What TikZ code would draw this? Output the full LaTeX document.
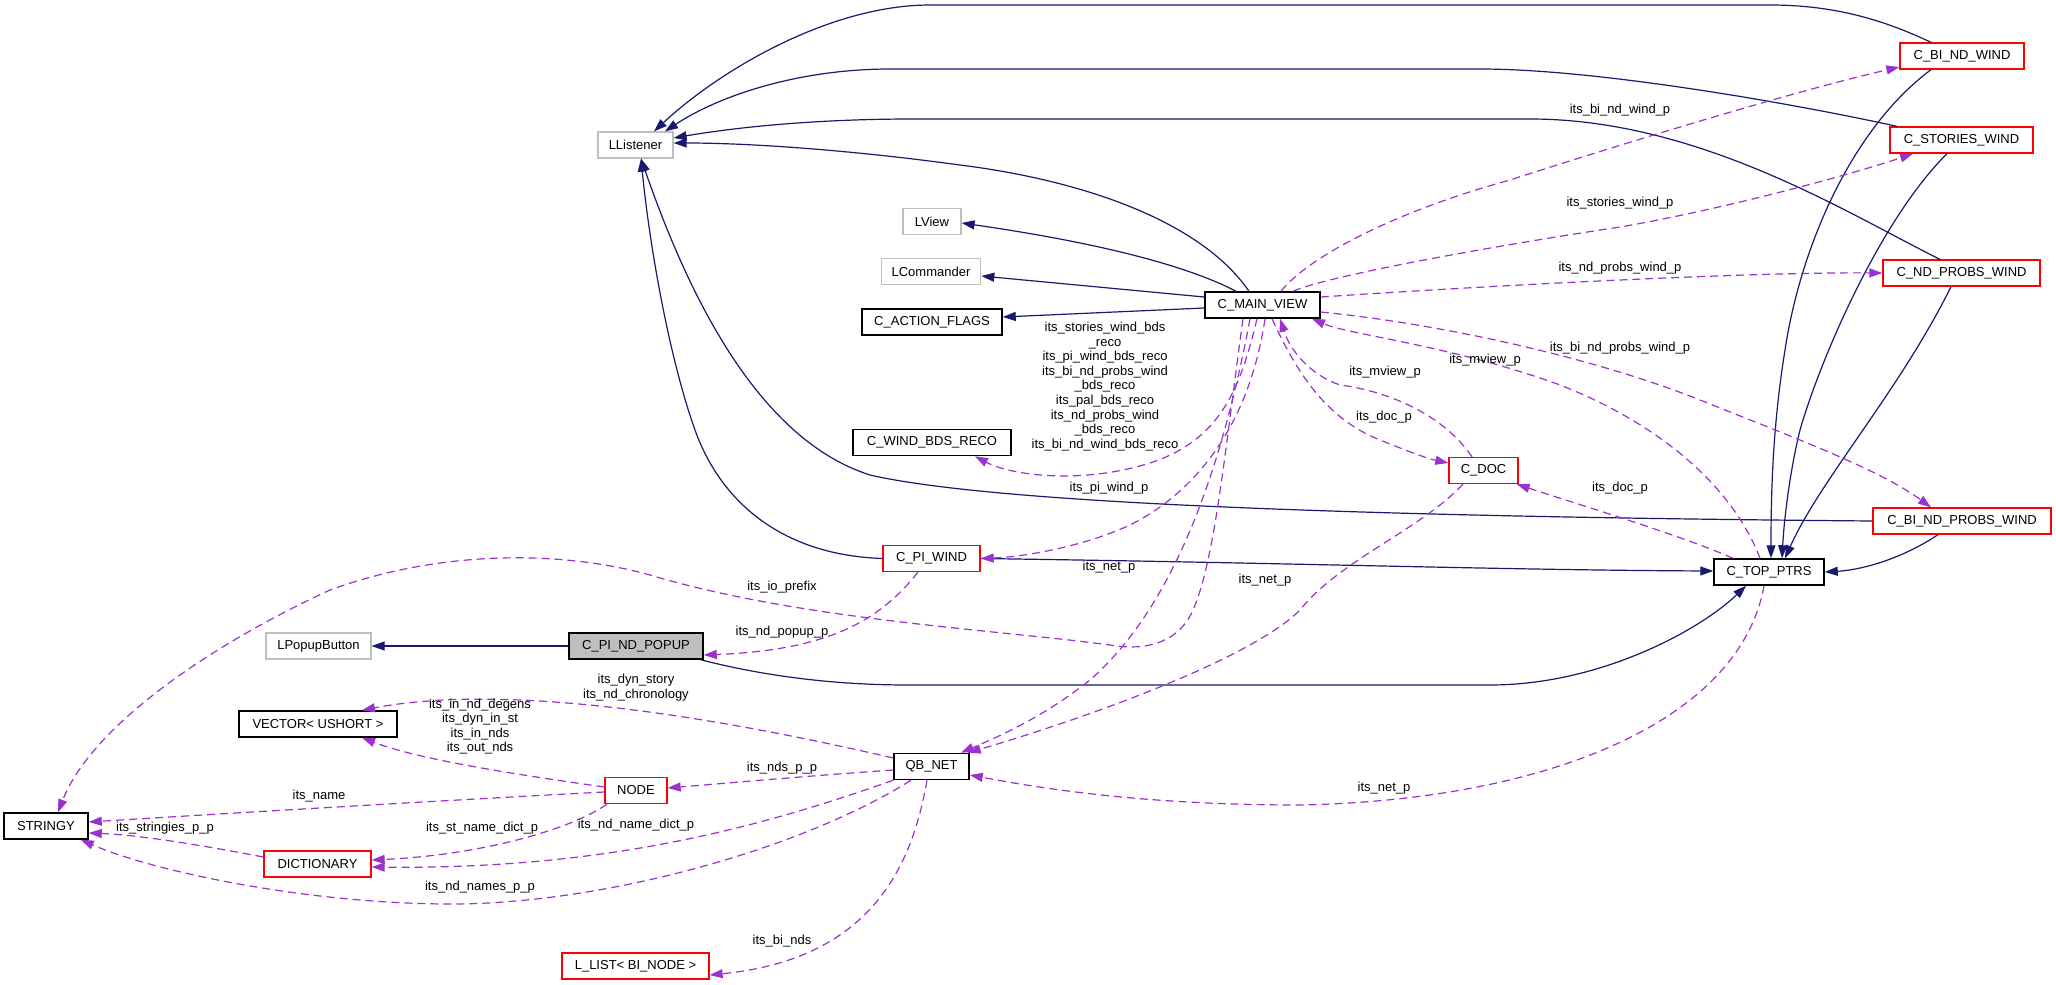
\documentclass[tikz,border=0pt]{standalone}
\usepackage{fontspec}
\setmainfont{Liberation Sans}
\usetikzlibrary{arrows.meta}
\definecolor{midblue}{HTML}{191970}
\definecolor{orchid}{HTML}{9A32CD}
\definecolor{lgray}{HTML}{BFBFBF}
\begin{document}
\begin{tikzpicture}[x=1pt,y=-1pt,
  every node/.style={font=\fontsize{13pt}{14.6pt}\selectfont},
  nbox/.style={draw, minimum height=26pt, inner sep=0pt, anchor=center},
  bbox/.style={nbox, draw=black, line width=1.5pt},
  rbox/.style={nbox, draw=red, line width=1.3pt},
  gbox/.style={nbox, draw=lgray, line width=1.2pt},
  inhedge/.style={draw=midblue, line width=1.2pt, -{Triangle[length=13pt,width=9pt]}},
  useedge/.style={draw=orchid, line width=1.2pt, dash pattern=on 8pt off 5pt, -{Triangle[length=13pt,width=9pt]}},
  lbl/.style={inner sep=0pt, align=center}
]
\useasboundingbox (0,0) rectangle (2056,985);
\fill[white] (0,0) rectangle (2056,985);

% nodes
\node[gbox, minimum width=75pt] (llistener) at (635.5,145) {LListener};
\node[gbox, minimum width=58pt] (lview) at (932,221.5) {LView};
\node[gbox, minimum width=99.5pt] (lcmd) at (931,271.5) {LCommander};
\node[bbox, minimum width=140pt] (actflags) at (932,322) {C\_ACTION\_FLAGS};
\node[bbox, minimum width=115pt] (mainview) at (1262.5,305) {C\_MAIN\_VIEW};
\node[rbox, minimum width=124pt] (bindwind) at (1962,56) {C\_BI\_ND\_WIND};
\node[rbox, minimum width=143pt] (stories) at (1961.5,140) {C\_STORIES\_WIND};
\node[rbox, minimum width=157pt] (ndprobs) at (1961.5,273) {C\_ND\_PROBS\_WIND};
\node[bbox, minimum width=158pt] (windbds) at (932,442.5) {C\_WIND\_BDS\_RECO};
\node[rbox, minimum width=97pt] (piwind) at (931.5,558.5) {C\_PI\_WIND};
\node[rbox, minimum width=69pt] (cdoc) at (1483.5,470.5) {C\_DOC};
\node[rbox, minimum width=178pt] (bindprobs) at (1962,521) {C\_BI\_ND\_PROBS\_WIND};
\node[bbox, minimum width=110pt] (toptrs) at (1769,572) {C\_TOP\_PTRS};
\node[gbox, minimum width=105pt] (lpopup) at (318.5,646) {LPopupButton};
\node[bbox, fill=lgray, minimum width=134pt] (popup) at (636,646) {C\_PI\_ND\_POPUP};
\node[bbox, minimum width=158pt] (vector) at (318,724) {VECTOR< USHORT >};
\node[bbox, minimum width=84pt] (stringy) at (46,826) {STRINGY};
\node[rbox, minimum width=62pt] (nodeb) at (636,790.5) {NODE};
\node[rbox, minimum width=107pt] (dict) at (317.5,864) {DICTIONARY};
\node[rbox, minimum width=147pt] (llist) at (635.5,966) {L\_LIST< BI\_NODE >};
\node[bbox, minimum width=75pt] (qbnet) at (931.5,766.5) {QB\_NET};

% inheritance edges
\draw[inhedge] ([xshift=-31pt]bindwind.north) .. controls (1880,18) and (1830,5) .. (1770,5) -- (930,5) .. controls (830,5) and (720,70) .. ([xshift=18.5pt]llistener.north);
\draw[inhedge] ([xshift=-64.5pt]stories.north) .. controls (1800,105) and (1600,69) .. (1480,69) -- (890,69) .. controls (800,69) and (720,95) .. ([xshift=29.5pt]llistener.north);
\draw[inhedge] ([xshift=-21.5pt]ndprobs.north) .. controls (1850,215) and (1700,119) .. (1530,119) -- (913,119) .. controls (800,119) and (720,130) .. ([yshift=7pt]llistener.east);
\draw[inhedge] ([xshift=-13.5pt]mainview.north) .. controls (1200,220) and (1080,180) .. (960,165) .. controls (850,150) and (750,143) .. ([yshift=2pt]llistener.east);
\draw[inhedge] (bindprobs.west) .. controls (1400,517) and (1000,505) .. (870,475) .. controls (760,440) and (690,300) .. ([xshift=5.5pt]llistener.south);
\draw[inhedge] (piwind.west) .. controls (780,555) and (720,500) .. (695,430) .. controls (670,360) and (650,250) .. ([xshift=5.5pt]llistener.south);
\draw[inhedge] ([xshift=-31pt]bindwind.south) .. controls (1850,130) and (1800,250) .. (1785,350) .. controls (1772,430) and (1771,500) .. ([xshift=2pt]toptrs.north);
\draw[inhedge] ([xshift=-14.5pt]stories.south) .. controls (1880,220) and (1820,360) .. (1800,430) .. controls (1790,470) and (1784,520) .. ([xshift=13pt]toptrs.north);
\draw[inhedge] ([xshift=-10.5pt]ndprobs.south) .. controls (1900,390) and (1820,480) .. ([xshift=16pt]toptrs.north);
\draw[inhedge] ([xshift=-24pt]bindprobs.south) .. controls (1900,560) and (1860,570) .. (toptrs.east);
\draw[inhedge] (piwind.east) .. controls (1300,563) and (1500,570) .. ([yshift=1pt]toptrs.west);
\draw[inhedge] ([xshift=-3pt]popup.south east) .. controls (760,675) and (830,685) .. (908,685) -- (1490,685) .. controls (1600,685) and (1700,630) .. ([xshift=-23pt]toptrs.south);
\draw[inhedge] (popup.west) -- (lpopup.east);
\draw[inhedge] ([xshift=-26.5pt]mainview.north) .. controls (1180,262) and (1080,240) .. ([yshift=-1.5pt]lview.east);
\draw[inhedge] ([yshift=8pt]mainview.west) -- ([yshift=-4.5pt]lcmd.east);
\draw[inhedge] ([yshift=-3pt]mainview.west) -- ([yshift=5pt]actflags.east);

% usage edges
\draw[useedge] ([xshift=18.5pt]mainview.north) .. controls (1310,255) and (1400,210) .. (1510,180) .. controls (1650,135) and (1800,90) .. ([yshift=-11pt]bindwind.west);
\node[lbl] at (1620,110) {its\_bi\_nd\_wind\_p};
\draw[useedge] ([xshift=30.5pt]mainview.north) .. controls (1330,275) and (1500,245) .. (1620,227) .. controls (1720,210) and (1850,175) .. ([xshift=-48.5pt]stories.south);
\node[lbl] at (1620,203) {its\_stories\_wind\_p};
\draw[useedge] ([yshift=8pt]mainview.east) .. controls (1500,285) and (1750,272) .. (ndprobs.west);
\node[lbl] at (1620,268) {its\_nd\_probs\_wind\_p};
\draw[useedge] ([yshift=-7pt]mainview.east) .. controls (1450,325) and (1600,360) .. (1700,400) .. controls (1800,440) and (1880,470) .. ([xshift=-31pt]bindprobs.north);
\node[lbl] at (1620,348) {its\_bi\_nd\_probs\_wind\_p};
\draw[useedge] ([xshift=-11.5pt]cdoc.north) .. controls (1440,410) and (1380,390) .. (1340,385) .. controls (1310,375) and (1290,350) .. ([xshift=17.5pt]mainview.south);
\node[lbl] at (1385,372) {its\_mview\_p};
\draw[useedge] ([xshift=-9pt]toptrs.north) .. controls (1730,480) and (1650,420) .. (1560,385) .. controls (1450,345) and (1350,335) .. ([xshift=49.5pt]mainview.south);
\node[lbl] at (1485,360) {its\_mview\_p};
\draw[useedge] ([xshift=9.5pt]mainview.south) .. controls (1300,380) and (1330,420) .. (1380,440) .. controls (1405,450) and (1425,458) .. ([yshift=7.5pt]cdoc.west);
\node[lbl] at (1384,417) {its\_doc\_p};
\draw[useedge] ([xshift=-36pt]toptrs.north) .. controls (1680,535) and (1580,505) .. ([xshift=-2pt]cdoc.south east);
\node[lbl] at (1620,488) {its\_doc\_p};
\draw[useedge] ([xshift=-5.5pt]mainview.south) .. controls (1240,390) and (1220,440) .. (1150,463) .. controls (1080,485) and (1010,475) .. ([xshift=43pt]windbds.south);
\node[lbl] at (1105,386.5) {its\_stories\_wind\_bds\\\_reco\\its\_pi\_wind\_bds\_reco\\its\_bi\_nd\_probs\_wind\\\_bds\_reco\\its\_pal\_bds\_reco\\its\_nd\_probs\_wind\\\_bds\_reco\\its\_bi\_nd\_wind\_bds\_reco};
\draw[useedge] ([xshift=2.5pt]mainview.south) .. controls (1250,420) and (1200,490) .. (1130,525) .. controls (1080,548) and (1020,557) .. (piwind.east);
\node[lbl] at (1109,488) {its\_pi\_wind\_p};
\draw[useedge] ([xshift=-12.5pt]mainview.south) .. controls (1220,480) and (1170,610) .. (1090,680) .. controls (1040,720) and (990,740) .. ([xshift=29.5pt]qbnet.north);
\node[lbl] at (1109,567) {its\_net\_p};
\draw[useedge] ([xshift=-20.5pt]cdoc.south) .. controls (1420,530) and (1340,560) .. (1300,610) .. controls (1250,660) and (1080,720) .. ([xshift=-2pt]qbnet.north east);
\node[lbl] at (1265,580) {its\_net\_p};
\draw[useedge] ([xshift=-19.5pt]mainview.south) .. controls (1225,450) and (1215,560) .. (1193,610) .. controls (1180,640) and (1150,652) .. (1110,645) .. controls (1000,630) and (800,620) .. (650,575) .. controls (560,550) and (440,550) .. (330,590) .. controls (200,650) and (90,730) .. ([xshift=12pt]stringy.north);
\node[lbl] at (782,587) {its\_io\_prefix};
\draw[useedge] ([xshift=-13.5pt]piwind.south) .. controls (880,620) and (830,650) .. ([yshift=-9pt]popup.east);
\node[lbl] at (782,632) {its\_nd\_popup\_p};
\draw[useedge] ([yshift=8.5pt]qbnet.west) .. controls (750,725) and (520,680) .. ([xshift=44pt]vector.north);
\node[lbl] at (636,687.5) {its\_dyn\_story\\its\_nd\_chronology};
\draw[useedge] ([yshift=3.5pt]nodeb.west) .. controls (520,775) and (420,760) .. ([xshift=44pt]vector.south);
\node[lbl] at (480,726.5) {its\_in\_nd\_degens\\its\_dyn\_in\_st\\its\_in\_nds\\its\_out\_nds};
\draw[useedge] ([yshift=-3.5pt]qbnet.west) .. controls (820,775) and (740,782) .. ([yshift=2.5pt]nodeb.east);
\node[lbl] at (782,768) {its\_nds\_p\_p};
\draw[useedge] ([yshift=-1.5pt]nodeb.west) .. controls (450,800) and (200,815) .. ([yshift=4pt]stringy.east);
\node[lbl] at (319,796) {its\_name};
\draw[useedge] ([yshift=7pt]dict.west) .. controls (200,845) and (140,835) .. ([yshift=-7pt]stringy.east);
\node[lbl] at (165,828) {its\_stringies\_p\_p};
\draw[useedge] ([xshift=-29pt]nodeb.south) .. controls (570,830) and (480,855) .. ([yshift=4pt]dict.east);
\node[lbl] at (482,828) {its\_st\_name\_dict\_p};
\draw[useedge] (qbnet.south west) .. controls (780,820) and (620,870) .. ([yshift=-3pt]dict.east);
\node[lbl] at (636,825) {its\_nd\_name\_dict\_p};
\draw[useedge] ([xshift=-20.5pt]qbnet.south) .. controls (800,850) and (600,905) .. (446,904) .. controls (300,903) and (150,870) .. ([xshift=-8pt]stringy.south east);
\node[lbl] at (480,887) {its\_nd\_names\_p\_p};
\draw[useedge] ([xshift=-4.5pt]qbnet.south) .. controls (910,880) and (860,960) .. ([yshift=-9pt]llist.east);
\node[lbl] at (782,941) {its\_bi\_nds};
\draw[useedge] ([xshift=-5pt]toptrs.south) .. controls (1740,720) and (1550,800) .. (1300,805) .. controls (1150,805) and (1050,790) .. ([yshift=-8.5pt]qbnet.east);
\node[lbl] at (1384,788) {its\_net\_p};
\end{tikzpicture}
\end{document}
